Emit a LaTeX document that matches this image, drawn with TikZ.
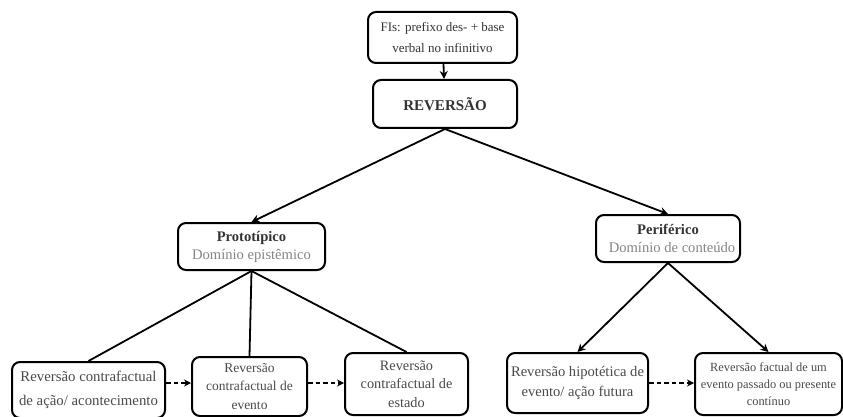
\documentclass[tikz,border=0pt]{standalone}
\usepackage{fontspec}
\setmainfont{Liberation Serif}
\usetikzlibrary{arrows.meta}
\definecolor{boxtext}{HTML}{4A4A4A}
\definecolor{subtext}{HTML}{858585}
\definecolor{headtext}{HTML}{333333}
\begin{document}
\begin{tikzpicture}[x=1pt,y=-1pt,
  box/.style={draw=black, line width=2pt, rounded corners=8pt, fill=white,
    inner sep=0pt, align=center, text=boxtext},
  link/.style={draw=black, line width=1.8pt},
  linkarrow/.style={link, -{Stealth[length=8pt,width=8pt]}},
  dasharrow/.style={link, dash pattern=on 4.5pt off 3pt, -{Stealth[length=7pt,width=7pt]}}]
\useasboundingbox[fill=white] (0,0) rectangle (843,417);

% upper chain
\node[box, minimum width=149pt, minimum height=51pt,
  font=\fontsize{13}{21}\selectfont, text=headtext] (fis) at (442.5,37.5)
  {FIs: prefixo des- + base\\verbal no infinitivo};
\node[box, minimum width=144pt, minimum height=48pt,
  font=\bfseries\fontsize{15}{18}\selectfont, text=headtext] (rev) at (445,104)
  {REVERSÃO};

% the two domains
\node[box, minimum width=147pt, minimum height=47pt,
  font=\fontsize{14.6}{18}\selectfont] (proto) at (251.5,246.5)
  {\textbf{\color{headtext}Prototípico}\\{\color{subtext}Domínio epistêmico}};
\node[box, minimum width=144pt, minimum height=47pt,
  font=\fontsize{14.6}{18}\selectfont] (perif) at (668,238.5)
  {\textbf{\color{headtext}Periférico}\\\hspace*{8pt}{\color{subtext}Domínio de conteúdo}};

% bottom row
\node[box, minimum width=153pt, minimum height=56pt,
  font=\fontsize{14.8}{24}\selectfont] (b1) at (88.5,390)
  {Reversão contrafactual\\de ação/ acontecimento};
\node[box, minimum width=115pt, minimum height=59pt,
  font=\fontsize{13.5}{18.5}\selectfont] (b2) at (249.5,386.5)
  {Reversão\\contrafactual de\\evento};
\node[box, minimum width=123pt, minimum height=62pt,
  font=\fontsize{14.3}{18.5}\selectfont] (b3) at (406.5,384)
  {Reversão\\contrafactual de\\estado};
\node[box, minimum width=141pt, minimum height=60pt,
  font=\fontsize{14.6}{20}\selectfont] (b4) at (577.5,383)
  {Reversão hipotética de\\evento/ ação futura};
\node[box, minimum width=147pt, minimum height=62pt,
  font=\fontsize{12.4}{17}\selectfont] (b5) at (768.5,384)
  {Reversão factual de um\\evento passado ou presente\\contínuo};

% connectors
\draw[linkarrow] (fis) -- (rev);
\draw[linkarrow] (rev.south) -- (proto.north);
\draw[linkarrow] (rev.south) -- (perif.north);
\draw[link] (proto.south) -- (b1.north);
\draw[link] (proto.south) -- (b2.north);
\draw[link] (proto.south) -- (b3.north);
\draw[linkarrow] (perif.south) -- (b4.north);
\draw[linkarrow] (perif.south) -- (b5.north);

\draw[dasharrow] ([yshift=7pt]b1.east) -- ([yshift=7pt]b1.east -| b2.west);
\draw[dasharrow] ([yshift=3.5pt]b2.east) -- ([yshift=3.5pt]b2.east -| b3.west);
\draw[dasharrow] ([yshift=0pt]b4.east) -- ([yshift=0pt]b4.east -| b5.west);
\end{tikzpicture}
\end{document}
